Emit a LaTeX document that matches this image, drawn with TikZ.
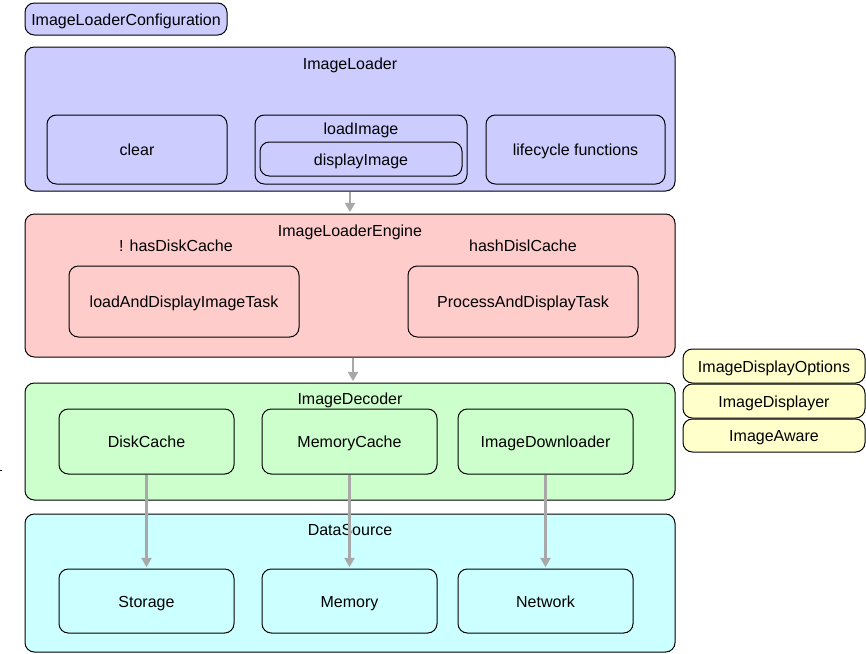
\documentclass[tikz,border=0pt]{standalone}
\usepackage{fontspec}
\setmainfont{Liberation Sans}
\usepackage{xcolor}
\usetikzlibrary{arrows.meta}
\definecolor{loaderblue}{HTML}{CCCCFF}
\definecolor{enginered}{HTML}{FFCCCC}
\definecolor{decodergreen}{HTML}{CCFFCC}
\definecolor{sourcecyan}{HTML}{CCFFFF}
\definecolor{optionyellow}{HTML}{FFFFCC}
\definecolor{arrowgray}{HTML}{A8A8A8}
\begin{document}
\begin{tikzpicture}[x=0.75pt,y=-0.75pt,
    font=\fontsize{12}{14}\selectfont,
    every node/.append style={text height=11pt,text depth=1.8pt},
    box/.style={draw,line width=0.75pt,rounded corners=7pt,inner sep=0pt,align=center},
    layer/.style={box,minimum width=487.5pt},
    inner/.style={box,minimum width=131.25pt,minimum height=48.75pt},
    extra/.style={box,fill=optionyellow,minimum width=136.5pt,minimum height=25.5pt},
    flow/.style={arrowgray,line width=2pt,-{Triangle[width=7.5pt,length=7pt]},shorten >=1pt}]
    \useasboundingbox (0,0) rectangle (866,653);

    \node[box,fill=loaderblue,minimum width=151.5pt,minimum height=24pt] (config) at (126,19) {ImageLoaderConfiguration};

    \node[layer,fill=loaderblue,minimum height=108pt] (loader) at (350,119) {};
    \node (loadertitle) at (350,63) {ImageLoader};
    \node[box,minimum width=135pt,minimum height=51.75pt] (clear) at (137,149.5) {clear};
    \node[box,minimum width=159pt,minimum height=51.75pt] (load) at (361,149.5) {};
    \node (loadtitle) at (361,128) {loadImage};
    \node[box,minimum width=151.5pt,minimum height=25.5pt] (display) at (361,159) {displayImage};
    \node[box,minimum width=134.25pt,minimum height=51.75pt] (lifecycle) at (575.5,149.5) {lifecycle functions};

    \node[layer,fill=enginered,minimum height=107.25pt] (engine) at (350,285.5) {};
    \node (enginetitle) at (350,230) {ImageLoaderEngine};
    \node (nodisk) at (176,245) {! hasDiskCache};
    \node (hasdisk) at (523,245) {hashDislCache};
    \node[box,minimum width=172.5pt,minimum height=53.25pt] (loadtask) at (184,301.5) {loadAndDisplayImageTask};
    \node[box,minimum width=172.5pt,minimum height=53.25pt] (processtask) at (523,301.5) {ProcessAndDisplayTask};

    \node[layer,fill=decodergreen,minimum height=87.75pt] (decoder) at (350,441.5) {};
    \node (decodertitle) at (350,398) {ImageDecoder};
    \node[inner] (diskcache) at (146.5,441.5) {DiskCache};
    \node[inner] (memcache) at (349.5,441.5) {MemoryCache};
    \node[inner] (downloader) at (545.5,441.5) {ImageDownloader};

    \node[layer,fill=sourcecyan,minimum height=103.5pt] (source) at (350,583) {};
    \node[inner,minimum height=48pt] (storage) at (146.5,601) {Storage};
    \node[inner,minimum height=48pt] (memory) at (349.5,601) {Memory};
    \node[inner,minimum height=48pt] (network) at (545.5,601) {Network};

    \node[extra] (options) at (774,366) {ImageDisplayOptions};
    \node[extra] (displayer) at (774,401) {ImageDisplayer};
    \node[extra,minimum height=24.75pt] (aware) at (774,435.5) {ImageAware};

    \node (sourcetitle) at (350,529) {DataSource};
    \draw[flow] (loader.south) -- (engine.north);
    \draw[flow] ([xshift=2.25pt]engine.south) -- ([xshift=2.25pt]decoder.north);
    \draw[flow] (diskcache.south) -- (storage.north);
    \draw[flow] (memcache.south) -- (memory.north);
    \draw[flow] (downloader.south) -- (network.north);

    \draw[line width=0.75pt] (0,470)--(2,470);
\end{tikzpicture}
\end{document}
